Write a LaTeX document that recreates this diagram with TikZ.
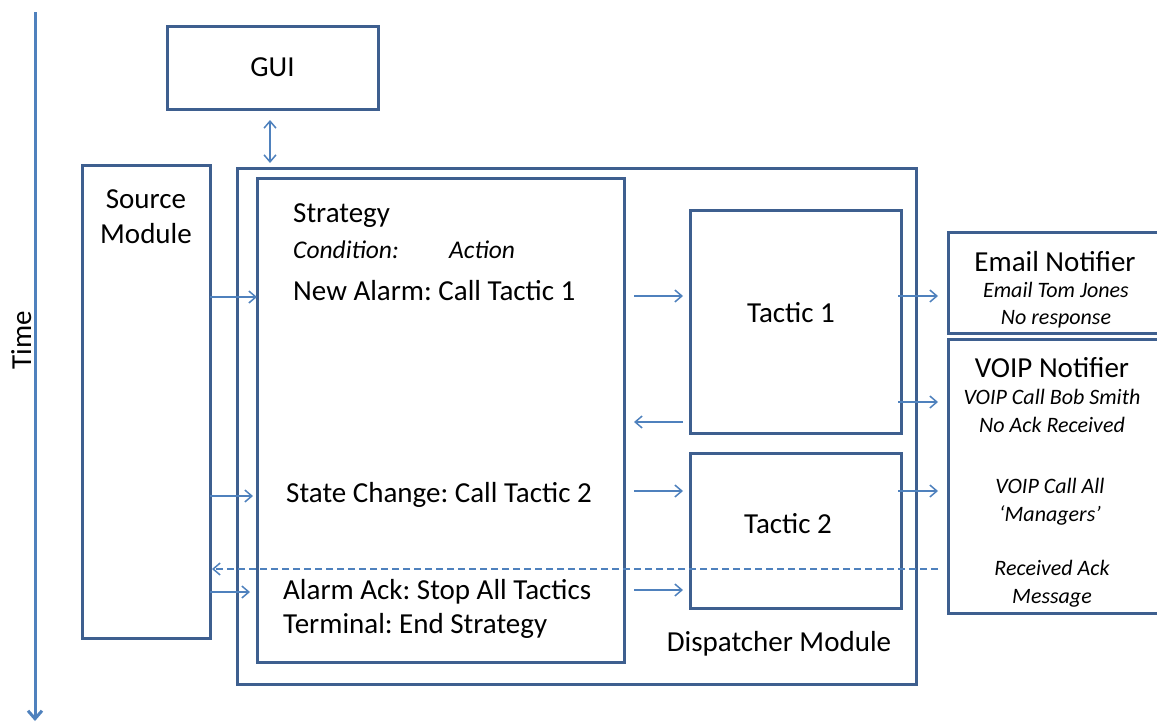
\documentclass[tikz,border=0pt]{standalone}
\usepackage{fontspec}
\setmainfont{Carlito}
\usetikzlibrary{arrows.meta}
\frenchspacing
\definecolor{boxblue}{RGB}{62,95,143}
\definecolor{flowblue}{RGB}{79,129,189}
\tikzset{box/.style={draw=boxblue, line width=3pt,
        inner sep=0pt, outer sep=0pt},
    flow/.style={draw=flowblue, line width=1.5pt,
        -{Straight Barb[length=7pt,width=12pt]}},
    txt/.style={inner sep=0pt, font=\fontsize{29}{35}\selectfont},
    cond/.style={inner sep=0pt, anchor=base west, font=\fontsize{25.5}{30}\selectfont\itshape},
    note/.style={inner sep=0pt, anchor=base, font=\fontsize{22}{27}\selectfont\itshape}}

\begin{document}
\begin{tikzpicture}[x=1pt,y=-1pt]
    \useasboundingbox (0,0) rectangle (1157,723);

    % time axis
    \coordinate (ttop) at (35,12);
    \coordinate (tbot) at (35,721);
    \draw[flowblue, line width=3pt, -{Straight Barb[length=8pt,width=14pt]}] (ttop) -- (tbot);
    \node[txt, rotate=90, anchor=base] (time) at (31,340) {Time};

    % boxes
    \node[box, minimum width=211, minimum height=83] (gui) at (272.5,67.5) {};
    \node[txt] (guilbl) at (gui) {GUI};
    \node[box, minimum width=128, minimum height=473] (src) at (146,401.5) {};
    \node[txt, anchor=north, align=center] (srclbl) at (146,189) {Source\\Module};
    \node[box, minimum width=679, minimum height=516] (disp) at (576.5,426) {};
    \node[box, minimum width=367, minimum height=484] (strat) at (440.5,420) {};
    \node[box, minimum width=211, minimum height=223] (tac1) at (795.5,321.5) {};
    \node[box, minimum width=211, minimum height=155] (tac2) at (795.5,530.5) {};
    \node[box, minimum width=222, minimum height=101] (email) at (1059,282.5) {};
    \node[box, minimum width=222, minimum height=274] (voip) at (1059,476) {};

    % strategy text
    \node[txt, anchor=base west] (strathead) at (293,222) {Strategy};
    \node[cond] (condition) at (293,258) {Condition:};
    \node[cond] (action) at (449,258) {Action};
    \node[txt, anchor=base west] (newalarm) at (293,300) {New Alarm: Call Tactic 1};
    \node[txt, anchor=base west] (statechg) at (286,502) {State Change: Call Tactic 2};
    \node[txt, anchor=base west] (alarmack) at (283,599) {Alarm Ack: Stop All Tactics};
    \node[txt, anchor=base west] (terminal) at (283,633) {Terminal: End Strategy};

    \node[txt, anchor=base] (tac1lbl) at (791,322) {Tactic 1};
    \node[txt, anchor=base] (tac2lbl) at (788,533) {Tactic 2};
    \node[txt, anchor=base] (displbl) at (779,651) {Dispatcher Module};

    % notifiers
    \node[txt, anchor=base] (emailhead) at (1055,271) {Email Notifier};
    \node[note] (email1) at (1056,297) {Email Tom Jones};
    \node[note] (email2) at (1056,324) {No response};
    \node[txt, anchor=base] (voiphead) at (1052,377) {VOIP Notifier};
    \node[note] (voip1) at (1052,404) {VOIP Call Bob Smith};
    \node[note] (voip2) at (1052,432) {No Ack Received};
    \node[note] (voip3) at (1050,493) {VOIP Call All};
    \node[note] (voip4) at (1050,521) {‘Managers’};
    \node[note] (voip5) at (1052,575) {Received Ack};
    \node[note] (voip6) at (1052,603) {Message};

    % levels of the connectors
    \coordinate (s1) at (0,297);
    \coordinate (s2) at (0,496);
    \coordinate (s3) at (0,592);
    \coordinate (t1) at (0,296);
    \coordinate (t2) at (0,491);
    \coordinate (t3) at (0,590);
    \coordinate (back) at (0,422);
    \coordinate (call) at (0,402);
    \coordinate (ack) at (0,569);
    \coordinate (ackend) at (938,569);

    \draw[flow, {Straight Barb[length=7pt,width=12pt]}-{Straight Barb[length=7pt,width=12pt]}, shorten <=11pt, shorten >=5pt] (gui.south -| 270,0) -- (disp.north -| 270,0);

    \draw[flow] (src.east |- s1) -- (strat.west |- s1);
    \draw[flow] (src.east |- s2) -- ([xshift=-4pt]strat.west |- s2);
    \draw[flow] (src.east |- s3) -- ([xshift=-7pt]strat.west |- s3);

    \draw[flow, shorten <=10pt, shorten >=7pt] (strat.east |- t1) -- (tac1.west |- t1);
    \draw[flow, shorten <=7pt, shorten >=10pt] (tac1.west |- back) -- (strat.east |- back);
    \draw[flow, shorten <=10pt, shorten >=7pt] (strat.east |- t2) -- (tac2.west |- t2);
    \draw[flow, shorten <=10pt, shorten >=7pt] (strat.east |- t3) -- (tac2.west |- t3);

    \draw[flow, shorten <=-3pt, shorten >=10pt] (tac1.east |- t1) -- (email.west |- t1);
    \draw[flow, shorten <=-3pt, shorten >=10pt] (tac1.east |- call) -- (voip.west |- call);
    \draw[flow, shorten <=-3pt, shorten >=10pt] (tac2.east |- t2) -- (voip.west |- t2);

    \draw[flow, dash pattern=on 7pt off 4pt, shorten >=2pt] (ackend) -- (src.east |- ack);
\end{tikzpicture}
\end{document}
